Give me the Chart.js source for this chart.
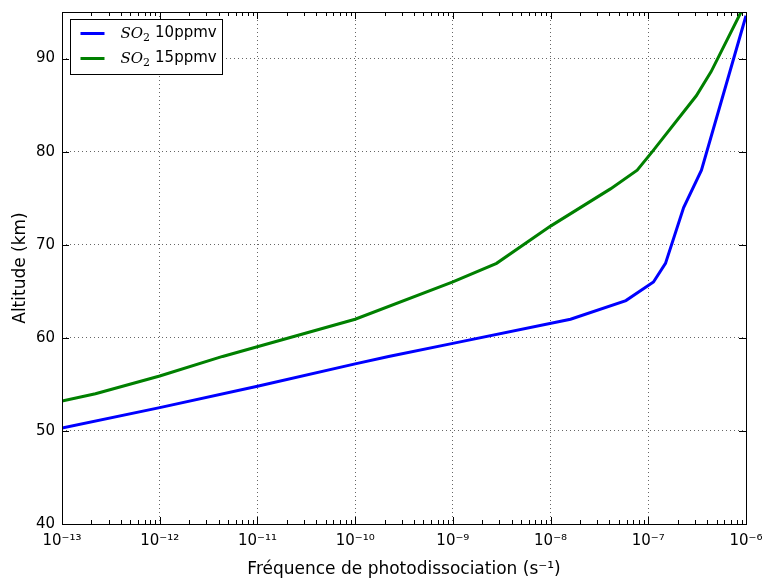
<!DOCTYPE html>
<html>
<head>
<meta charset="utf-8">
<script src="https://cdn.jsdelivr.net/npm/chart.js@4.4.1/dist/chart.umd.min.js"></script>
<style>
  body { margin: 0; background: #fff; }
  #wrap { width: 764px; height: 580px; }
</style>
</head>
<body>
<div id="wrap"><canvas id="photoChart" width="764" height="580"></canvas></div>
<script>
// data
var freq10 = [1e-13, 1e-12, 1e-11, 1e-10, 2.2e-10, 1e-9, 1.6e-8, 5.9e-8, 1.13e-7, 1.5e-7, 2.3e-7, 3.5e-7, 1e-6];
var alt10  = [50.3, 52.5, 54.8, 57.2, 58, 59.4, 62, 64, 66, 68, 74, 78, 94.6];
var freq15 = [1e-13, 2.2e-13, 1e-12, 4.4e-12, 1e-10, 1e-9, 2.8e-9, 1e-8, 4.1e-8, 7.7e-8, 1.1e-7, 3.1e-7, 4.4e-7, 8.9e-7];
var alt15  = [53.2, 54, 55.9, 58, 62, 66, 68, 72, 76, 78, 80, 86, 88.6, 95];
var seriesLabels = ['SO₂ 10ppmv', 'SO₂ 15ppmv'];

var xDecades = [1e-13, 1e-12, 1e-11, 1e-10, 1e-9, 1e-8, 1e-7, 1e-6];
var xTickLabels = ['10⁻¹³', '10⁻¹²', '10⁻¹¹', '10⁻¹⁰', '10⁻⁹', '10⁻⁸', '10⁻⁷', '10⁻⁶'];
var yTicks = [40, 50, 60, 70, 80, 90];

function toPoints(xs, ys) {
  return xs.map(function(x, i) { return { x: x, y: ys[i] }; });
}

// matplotlib look: inward ticks on all sides, black frame, boxed legend
var mplFrame = {
  id: 'mplFrame',
  afterDraw: function(chart) {
    var ctx = chart.ctx, a = chart.chartArea;
    var xs = chart.scales.x, ys = chart.scales.y;
    ctx.save();
    ctx.strokeStyle = '#000';
    ctx.lineWidth = 1;
    ctx.beginPath();
    xDecades.forEach(function(d) {
      var px = Math.round(xs.getPixelForValue(d)) + 0.5;
      ctx.moveTo(px, a.bottom); ctx.lineTo(px, a.bottom - 7);
      ctx.moveTo(px, a.top); ctx.lineTo(px, a.top + 7);
      if (d < 1e-6) {
        for (var k = 2; k <= 9; k++) {
          var mx = Math.round(xs.getPixelForValue(d * k)) + 0.5;
          ctx.moveTo(mx, a.bottom); ctx.lineTo(mx, a.bottom - 4);
          ctx.moveTo(mx, a.top); ctx.lineTo(mx, a.top + 4);
        }
      }
    });
    yTicks.forEach(function(v) {
      var py = Math.round(ys.getPixelForValue(v)) + 0.5;
      ctx.moveTo(a.left, py); ctx.lineTo(a.left + 7, py);
      ctx.moveTo(a.right, py); ctx.lineTo(a.right - 7, py);
    });
    ctx.stroke();
    ctx.strokeRect(Math.round(a.left) + 0.5, Math.round(a.top) + 0.5,
                   Math.round(a.right - a.left), Math.round(a.bottom - a.top));

    // legend box
    var lx = a.left + 8.5, ly = a.top + 7.5;
    ctx.fillStyle = '#fff';
    ctx.fillRect(lx, ly, 152, 55);
    ctx.strokeRect(lx, ly, 152, 55);
    chart.data.datasets.forEach(function(ds, i) {
      var rowY = ly + 14 + i * 25;
      ctx.strokeStyle = ds.borderColor;
      ctx.lineWidth = 3;
      ctx.beginPath();
      ctx.moveTo(lx + 10, rowY); ctx.lineTo(lx + 34, rowY);
      ctx.stroke();
      var parts = ds.label.split(' ');
      var tx = lx + 50;
      ctx.fillStyle = '#000';
      ctx.textBaseline = 'middle';
      ctx.font = 'italic 15px "DejaVu Serif"';
      ctx.fillText('SO', tx, rowY + 1);
      tx += ctx.measureText('SO').width;
      ctx.font = '11px "DejaVu Serif"';
      ctx.fillText('2', tx, rowY + 5);
      tx += ctx.measureText('2').width + 5;
      ctx.font = '15px "DejaVu Sans"';
      ctx.fillText(parts[1], tx, rowY);
    });
    ctx.restore();
  }
};

var ctx = document.getElementById('photoChart').getContext('2d');
var photoChart = new Chart(ctx, {
  type: 'line',
  data: {
    datasets: [{
      label: seriesLabels[0],
      data: toPoints(freq10, alt10),
      borderColor: '#0000ff',
      borderWidth: 3,
      pointRadius: 0,
      fill: false
    }, {
      label: seriesLabels[1],
      data: toPoints(freq15, alt15),
      borderColor: '#008000',
      borderWidth: 3,
      pointRadius: 0,
      fill: false
    }]
  },
  options: {
    responsive: false,
    animation: false,
    layout: { padding: { top: 12, right: 18, left: 0, bottom: 0 } },
    plugins: {
      legend: { display: false },
      tooltip: { enabled: false }
    },
    scales: {
      x: {
        type: 'logarithmic',
        min: 1e-13,
        max: 1e-6,
        afterBuildTicks: function(scale) {
          scale.ticks = xDecades.map(function(v) { return { value: v, major: true }; });
        },
        afterFit: function(scale) {
          scale.height = 56;
          scale.paddingLeft = 0;
          scale.paddingRight = 0;
        },
        ticks: {
          autoSkip: false,
          maxRotation: 0,
          padding: 8,
          color: '#000',
          font: { family: 'DejaVu Sans', size: 15 },
          callback: function(value, index) { return xTickLabels[index]; }
        },
        grid: { color: 'rgba(0,0,0,0.6)', lineWidth: 1, drawTicks: false },
        border: { display: false, dash: [1, 3] },
        title: {
          display: true,
          text: 'Fréquence de photodissociation (s⁻¹)',
          color: '#000',
          font: { family: 'DejaVu Sans', size: 17 },
          padding: { top: 0, bottom: 0 }
        }
      },
      y: {
        min: 40,
        max: 95,
        afterBuildTicks: function(scale) {
          scale.ticks = yTicks.map(function(v) { return { value: v }; });
        },
        afterFit: function(scale) {
          scale.width = 62;
          scale.paddingTop = 0;
          scale.paddingBottom = 0;
        },
        ticks: {
          padding: 7,
          color: '#000',
          font: { family: 'DejaVu Sans', size: 15 }
        },
        grid: { color: 'rgba(0,0,0,0.6)', lineWidth: 1, drawTicks: false },
        border: { display: false, dash: [1, 3] },
        title: {
          display: true,
          text: 'Altitude (km)',
          color: '#000',
          font: { family: 'DejaVu Sans', size: 17 },
          padding: { top: 10, bottom: 0 }
        }
      }
    }
  },
  plugins: [mplFrame]
});
</script>
</body>
</html>
